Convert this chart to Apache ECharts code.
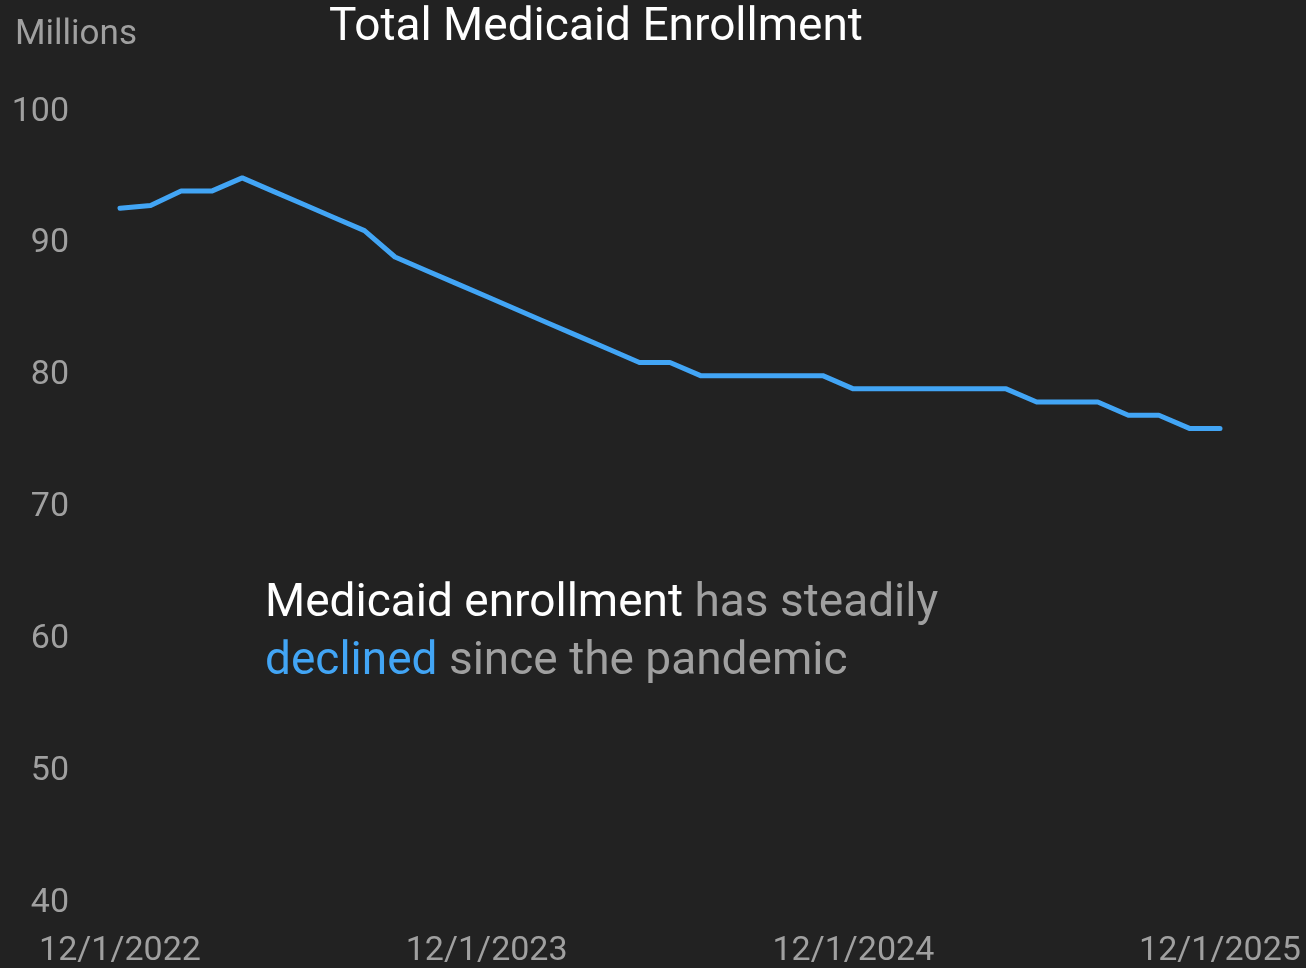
<!DOCTYPE html>
<html>
<head>
<meta charset="utf-8">
<script src="https://cdn.jsdelivr.net/npm/echarts@6/dist/echarts.min.js"></script>
<style>
  html, body { margin: 0; padding: 0; background: #222222; }
  #chart { width: 1306px; height: 968px; }
</style>
</head>
<body>
<div id="chart"></div>
<script>
// 月份 (12/1/2022 - 12/1/2025)
var months = [];
for (var i = 0; i <= 36; i++) {
  var m = (11 + i) % 12 + 1;
  var y = 2022 + Math.floor((11 + i) / 12);
  months.push(m + '/1/' + y);
}
// 总登记人数 (百万)
var enrollment = [
  92.7, 92.9, 94, 94, 95, 94, 93, 92, 91, 89,
  88, 87, 86, 85, 84, 83, 82, 81, 81, 80,
  80, 80, 80, 80, 79, 79, 79, 79, 79, 79,
  78, 78, 78, 77, 77, 76, 76
];
var yTicks = { min: 40, max: 100, interval: 10 };

var font = 'Roboto, "Noto Sans", sans-serif';
var chart = echarts.init(document.getElementById('chart'));
var option = {
  backgroundColor: '#222222',
  animation: false,
  grid: { left: 120, right: 86, top: 112, bottom: 63 },
  title: {
    text: 'Total Medicaid Enrollment',
    left: 324,
    top: 0,
    textStyle: { color: '#ffffff', fontSize: 46, fontWeight: 'normal', fontFamily: font }
  },
  graphic: [
    {
      type: 'text',
      left: 15,
      top: 18,
      style: { text: 'Millions', fill: '#a0a0a0', font: '35px ' + font }
    },
    {
      type: 'text',
      left: 265,
      top: 575,
      style: {
        text: '{w|Medicaid enrollment} {g|has steadily}\n{b|declined} {g|since the pandemic}',
        font: '46px ' + font,
        lineHeight: 58,
        rich: {
          w: { fill: '#ffffff', font: '46px ' + font, lineHeight: 58 },
          g: { fill: '#a0a0a0', font: '46px ' + font, lineHeight: 58 },
          b: { fill: '#42a5f5', font: '46px ' + font, lineHeight: 58 }
        }
      }
    }
  ],
  xAxis: {
    type: 'category',
    data: months,
    boundaryGap: false,
    axisLine: { show: false },
    axisTick: { show: false },
    axisLabel: {
      interval: 11,
      color: '#a0a0a0',
      fontSize: 34,
      fontFamily: font,
      margin: 31,
      showMaxLabel: true
    },
    splitLine: { show: false }
  },
  yAxis: {
    type: 'value',
    min: yTicks.min,
    max: yTicks.max,
    interval: yTicks.interval,
    axisLine: { show: false },
    axisTick: { show: false },
    splitLine: { show: false },
    axisLabel: { color: '#a0a0a0', fontSize: 34, fontFamily: font, margin: 51, padding: [4, 0, 0, 0] }
  },
  series: [
    {
      type: 'line',
      data: enrollment,
      showSymbol: false,
      lineStyle: { color: '#42a5f5', width: 5, cap: 'round', join: 'round' }
    }
  ]
};
chart.setOption(option);
</script>
</body>
</html>
